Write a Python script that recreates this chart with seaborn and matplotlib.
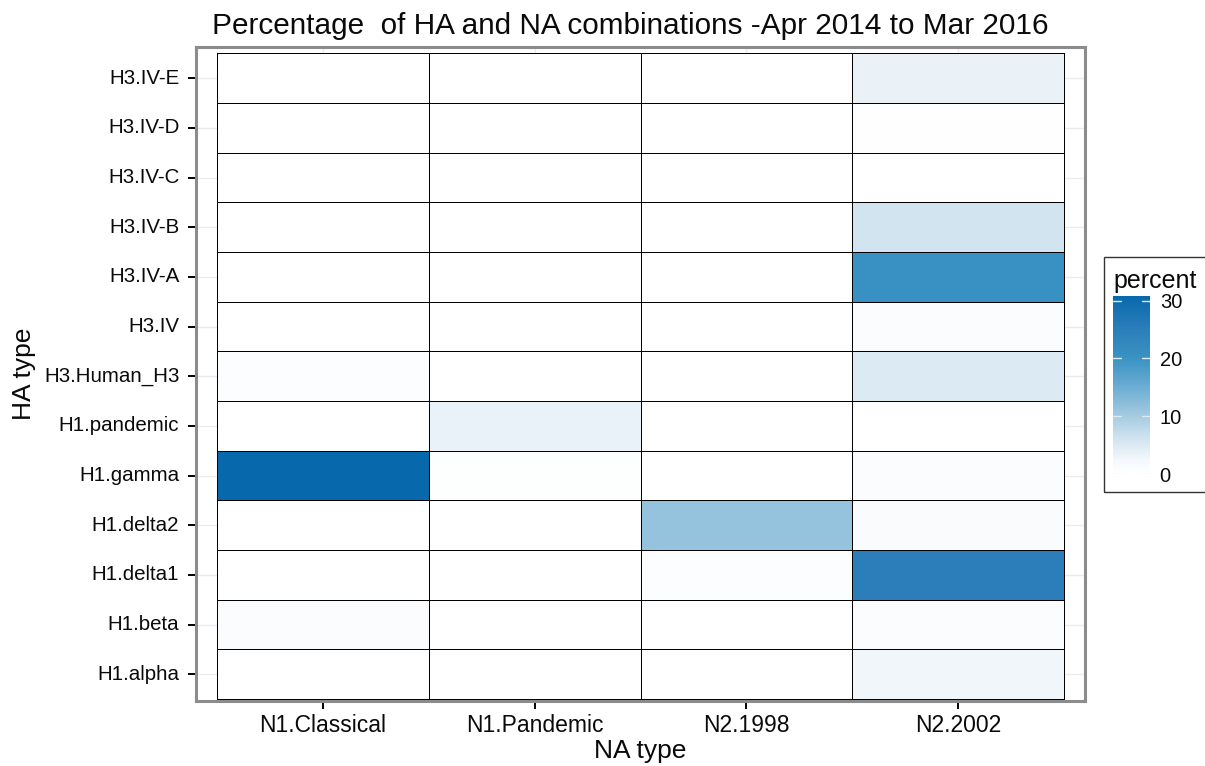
import numpy as np
import pandas as pd
import matplotlib
matplotlib.use("Agg")
import matplotlib.pyplot as plt
import matplotlib.patches as mpatches
from matplotlib.colors import LinearSegmentedColormap
import seaborn as sns

# HA types listed top to bottom, NA types left to right
ha_types = ["H3.IV-E", "H3.IV-D", "H3.IV-C", "H3.IV-B", "H3.IV-A", "H3.IV",
            "H3.Human_H3", "H1.pandemic", "H1.gamma", "H1.delta2",
            "H1.delta1", "H1.beta", "H1.alpha"]
na_types = ["N1.Classical", "N1.Pandemic", "N2.1998", "N2.2002"]

# percent of isolates for each HA type, one list per NA type
pct_n1_classical = [0, 0, 0, 0, 0, 0, 0.8, 0, 30.8, 0, 0, 1.0, 0]
pct_n1_pandemic = [0, 0, 0, 0, 0, 0, 0, 3.5, 0.4, 0, 0, 0, 0]
pct_n2_1998 = [0, 0, 0, 0, 0, 0, 0, 0, 0, 11.5, 0.8, 0, 0]
pct_n2_2002 = [3.4, 0.3, 0, 6.0, 20.5, 1.0, 5.0, 0, 1.2, 1.5, 25.0, 1.2, 2.7]

colorbar_ticks = [0, 10, 20, 30]

table = pd.DataFrame(
    {na_types[0]: pct_n1_classical, na_types[1]: pct_n1_pandemic,
     na_types[2]: pct_n2_1998, na_types[3]: pct_n2_2002},
    index=ha_types)

sns.set_style("white")
plt.rcParams["font.family"] = ["Liberation Sans", "DejaVu Sans"]

cmap = LinearSegmentedColormap.from_list(
    "percent_blues",
    [(0.00, "#ffffff"), (0.07, "#f6f9fc"), (0.20, "#d0e3ef"),
     (0.33, "#a4cae1"), (0.50, "#68abd2"), (0.65, "#3a93c3"),
     (0.82, "#2a7db9"), (1.00, "#0868ac")])

W, H = 1205, 766
fig = plt.figure(figsize=(W / 100, H / 100), dpi=100)

def fx(px):
    return px / W

def fy(py):
    return 1 - py / H

ax = fig.add_axes([fx(196), fy(701), fx(1085) - fx(196), fy(47) - fy(701)])
cax = fig.add_axes([fx(1113), fy(474), fx(1150) - fx(1113), fy(296) - fy(474)])

vmax = float(np.max(table.values))
sns.heatmap(table, ax=ax, cmap=cmap, vmin=0, vmax=vmax,
            linewidths=0.6, linecolor="black", cbar_ax=cax,
            cbar_kws={"ticks": colorbar_ticks})

ax.set_xlim(-0.1, 4.1)
ax.set_ylim(13.04, -0.13)

# light major grid behind the tiles
for i in range(len(ha_types)):
    ax.axhline(i + 0.5, color="#ebebeb", lw=1.0, zorder=0)
for j in range(len(na_types)):
    ax.axvline(j + 0.5, color="#ebebeb", lw=1.0, zorder=0)
ax.set_axisbelow(True)

for side in ["top", "bottom", "left", "right"]:
    ax.spines[side].set_visible(True)
    ax.spines[side].set_color("#8c8c8c")
    ax.spines[side].set_linewidth(2.2)

ax.tick_params(axis="both", which="major", length=6, width=1.4,
               color="black", labelcolor="#0a0a0a",
               left=True, bottom=True)
ax.tick_params(axis="y", labelsize=14.8, pad=6)
ax.tick_params(axis="x", labelsize=16.5, pad=3)
ax.set_yticklabels(ha_types, rotation=0)
ax.set_xticklabels(na_types, rotation=0)

ax.set_xlabel("NA type", fontsize=19, labelpad=2, color="#0a0a0a")
ax.set_ylabel("HA type", fontsize=19, labelpad=6, color="#0a0a0a")
ax.set_title("Percentage  of HA and NA combinations -Apr 2014 to Mar 2016",
             fontsize=21.4, pad=9, x=0.489, color="#0a0a0a")

# colorbar styling
cbar = ax.collections[0].colorbar
cbar.outline.set_visible(False)
cax.tick_params(length=0, labelsize=14.5, pad=7, labelcolor="#0a0a0a")
for t in colorbar_ticks:
    cax.plot([0, 0.22], [t, t], color="#e0e8f0", lw=1.0,
             transform=cax.get_yaxis_transform())
    cax.plot([0.78, 1], [t, t], color="#e0e8f0", lw=1.0,
             transform=cax.get_yaxis_transform())
fig.text(fx(1113), fy(281), "percent", fontsize=18, ha="left", va="center",
         color="#0a0a0a")

legend_box = mpatches.Rectangle((fx(1104), fy(492)), fx(1215) - fx(1104),
                                fy(257) - fy(492), transform=fig.transFigure,
                                fill=False, edgecolor="#333333", lw=1.0)
fig.patches.append(legend_box)

fig.savefig("out.png", dpi=100)
